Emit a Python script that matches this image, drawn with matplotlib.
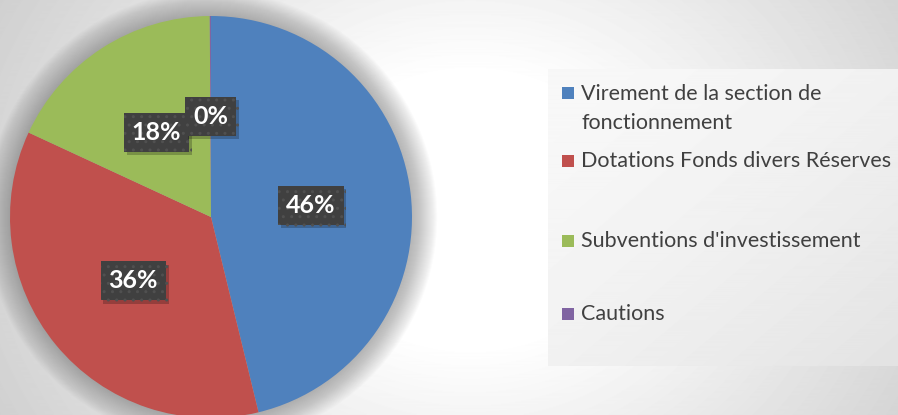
import numpy as np
import matplotlib
matplotlib.use('Agg')
from matplotlib import pyplot as plt
from matplotlib.patches import Rectangle, Circle
import matplotlib.patheffects as pe

# données (parts en %)
categories = ['Virement de la section de\nfonctionnement',
              'Dotations Fonds divers Réserves',
              "Subventions d'investissement",
              'Cautions']
parts = [46.2, 35.7, 18.0, 0.1]
couleurs = ['#4F81BD', '#C0504D', '#9BBB59', '#8064A2']

W, H = 898, 415
fig = plt.figure(figsize=(W / 100, H / 100), dpi=100)

# fond en dégradé radial + encadré de légende
bg = fig.add_axes([0, 0, 1, 1], zorder=0)
bg.set_xlim(0, W)
bg.set_ylim(H, 0)
bg.axis('off')
yy, xx = np.mgrid[0:H, 0:W]
r = np.hypot((xx - 470) / 1.0, (yy - 210) / 0.85)
val = 1.0 - np.clip((r - 160) / 320, 0, 1.3) * 0.16
bg.imshow(val, cmap='gray', vmin=0, vmax=1, extent=[0, W, H, 0], aspect='auto')

lx0, lx1, ly0, ly1 = 548, 898, 70, 366
gy, gx = np.mgrid[0:ly1 - ly0, 0:lx1 - lx0]
t = (gx / (lx1 - lx0) + gy / (ly1 - ly0)) / 2
box = 0.972 - 0.085 * t ** 1.6
bg.imshow(box, cmap='gray', vmin=0, vmax=1, extent=[lx0, lx1, ly1, ly0], aspect='auto')

# entrées de légende
y_entries = [92, 160, 240, 313]
for lab, c, y in zip(categories, couleurs, y_entries):
    bg.add_patch(Rectangle((562, y - 5), 12, 12, color=c, lw=0))
    if '\n' in lab:
        bg.text(581, y - 8, lab, va='top', ha='left', fontsize=15.5, family='Lato',
                color='#404040', linespacing=1.55)
    else:
        bg.text(581, y + 7, lab, va='baseline', ha='left', fontsize=15.5, family='Lato',
                color='#404040')

# camembert
ax = fig.add_axes([10 / W, -3 / H, 402 / W, 402 / H], zorder=1)
ax.patch.set_alpha(0)
for k in range(1, 26):
    ax.add_patch(Circle((0, 0), 1 + k * 0.005, color='#707070', alpha=0.022, lw=0,
                        zorder=0, clip_on=False))
wedges, _, autotexts = ax.pie(parts, colors=couleurs, startangle=90, counterclock=False,
                              autopct=lambda p: f'{p:.0f}%', pctdistance=0.5,
                              wedgeprops=dict(lw=0))
for w in wedges:
    w.set_zorder(2)
for txt in autotexts:
    txt.set_color('white')
    txt.set_fontsize(18)
    txt.set_fontweight('bold')
    txt.set_family('Lato')
    txt.set_zorder(5)
    txt.set_bbox(dict(boxstyle='square,pad=0.32', fc='#404040', ec='#505050', lw=0, hatch='..'))
    txt.get_bbox_patch().set_path_effects([
        pe.SimplePatchShadow(offset=(2, -2.5), shadow_rgbFace='k', alpha=0.22),
        pe.Normal()])
ax.set_xlim(-1, 1)
ax.set_ylim(-1, 1)
ax.axis('off')

fig.savefig('out.png', dpi=100)
